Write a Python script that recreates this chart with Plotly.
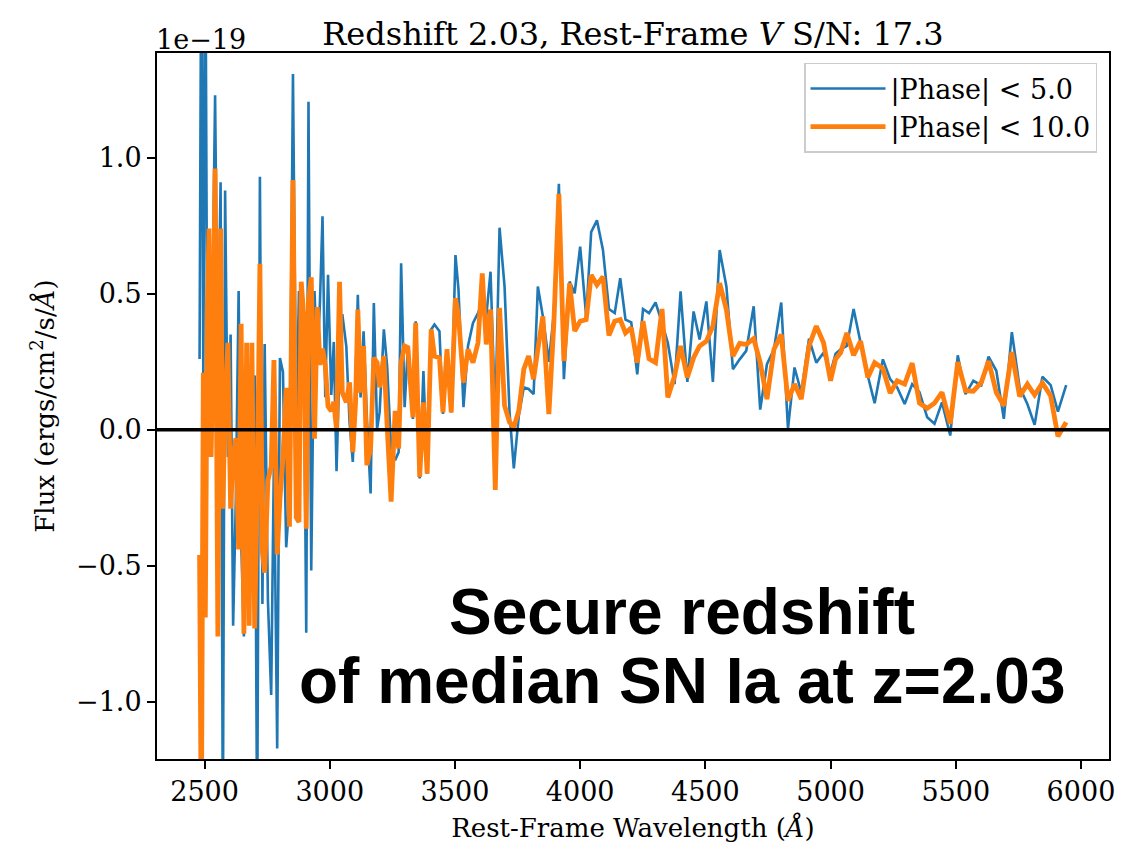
import plotly.graph_objects as go

# Rest-frame wavelength grid (Angstrom)
wavelength = [
    2480, 2487, 2495, 2503, 2511, 2518, 2526, 2534, 2542, 2553,
    2564, 2573, 2582, 2593, 2604, 2614, 2625, 2636, 2646, 2657,
    2668, 2678, 2689, 2700, 2710, 2721, 2731, 2740, 2753, 2766,
    2777, 2790, 2801, 2813, 2826, 2839, 2853, 2866, 2877, 2886,
    2897, 2906, 2915, 2926, 2939, 2950, 2961, 2971, 2982, 2993,
    3006, 3016, 3027, 3039, 3050, 3066, 3079, 3092, 3103, 3112,
    3123, 3135, 3148, 3163, 3176, 3189, 3199, 3216, 3229, 3245,
    3261, 3275, 3285, 3299, 3312, 3332, 3343, 3359, 3374, 3389,
    3405, 3418, 3438, 3452, 3468, 3485, 3502, 3514, 3534, 3552,
    3572, 3592, 3609, 3625, 3642, 3661, 3678, 3698, 3718, 3735,
    3755, 3775, 3794, 3814, 3831, 3851, 3875, 3895, 3915, 3935,
    3958, 3978, 4000, 4024, 4044, 4067, 4091, 4115, 4138, 4160,
    4181, 4204, 4228, 4251, 4275, 4301, 4327, 4350, 4377, 4401,
    4428, 4453, 4477, 4504, 4530, 4557, 4584, 4610, 4637, 4663,
    4693, 4719, 4746, 4774, 4803, 4830, 4856, 4883, 4914, 4943,
    4972, 5000, 5020, 5040, 5065, 5092, 5120, 5149, 5176, 5209,
    5238, 5266, 5296, 5326, 5355, 5386, 5415, 5445, 5478, 5508,
    5539, 5570, 5602, 5631, 5662, 5692, 5724, 5755, 5786, 5815,
    5846, 5879, 5908, 5941,
]

# Flux in units of 1e-19 ergs/cm^2/s/A
flux_phase5 = [
    0.26, 1.90, 0.20, 1.90, 0.15, 0.55, 0.07, 0.60, 1.23, 0.20,
    0.91, -1.50, 0.88, -0.10, 0.35, -0.72, -0.25, 0.51, -0.40, -0.76,
    0.25, -0.35, -0.10, 0.20, -1.50, 0.93, -0.64, 0.315, -0.627, -0.975,
    -0.10, -1.171, 0.264, 0.213, -0.432, -0.254, 1.308, -0.016, 0.510, 0.239,
    0.256, -0.746, 1.206, -0.517, 0.510, 0.239, 0.476, 0.785, 0.120, 0.570,
    0.128, 0.323, -0.152, 0.239, 0.425, 0.308, 0.028, -0.118, 0.174, 0.496,
    0.119, 0.362, 0.050, -0.234, 0.466, 0.004, 0.064, 0.369, 0.235, -0.069,
    -0.112, -0.082, 0.612, 0.083, 0.308, 0.040, 0.399, -0.179, 0.216, -0.161,
    0.369, 0.387, 0.362, 0.058, 0.296, 0.064, 0.642, 0.515, 0.083, 0.308,
    0.393, 0.429, 0.466, 0.417, 0.581, 0.040, 0.743, 0.527, 0.064, -0.142,
    0.052, 0.156, 0.150, 0.131, 0.527, 0.417, 0.250, 0.430, 0.904, 0.186,
    0.545, 0.502, 0.673, 0.417, 0.727, 0.770, 0.661, 0.444, 0.429, 0.557,
    0.405, 0.395, 0.204, 0.444, 0.429, 0.468, 0.393, 0.320, 0.168, 0.509,
    0.176, 0.435, 0.332, 0.472, 0.176, 0.661, 0.527, 0.223, 0.259, 0.290,
    0.454, 0.074, 0.241, 0.296, 0.468, 0.004, 0.229, 0.137, 0.335, 0.247,
    0.283, 0.211, 0.280, 0.296, 0.308, 0.444, 0.320, 0.198, 0.098, 0.259,
    0.186, 0.156, 0.095, 0.168, 0.138, 0.046, 0.022, 0.101, -0.021, 0.274,
    0.131, 0.180, 0.164, 0.269, 0.217, 0.040, 0.359, 0.156, 0.095, 0.018,
    0.195, 0.164, 0.067, 0.164,
]

flux_phase10 = [
    -0.46, -1.50, 0.21, -0.69, 0.45, 0.74, -0.10, 0.30, 0.96, -0.76,
    0.74, -0.29, 0.10, 0.32, -0.29, -0.10, -0.03, -0.44, 0.39, -0.75,
    0.32, -0.72, 0.32, -0.73, -0.26, 0.61, -0.45, -0.525, -0.186, -0.135,
    0.256, -0.458, -0.254, -0.101, 0.154, -0.356, 0.918, -0.322, -0.339, 0.544,
    0.408, -0.364, 0.476, 0.561, -0.033, 0.451, 0.239, 0.298, 0.239, 0.086,
    0.069, 0.103, 0.001, 0.544, 0.137, 0.101, 0.174, -0.082, 0.101, 0.442,
    0.137, 0.308, -0.130, -0.069, 0.265, 0.247, 0.156, 0.271, 0.016, -0.264,
    0.070, -0.069, 0.247, 0.308, 0.302, 0.046, 0.393, -0.173, 0.101, -0.161,
    0.369, 0.271, 0.265, 0.064, 0.296, 0.064, 0.484, 0.417, 0.174, 0.296,
    0.247, 0.320, 0.575, 0.314, 0.442, -0.221, 0.448, 0.089, 0.028, 0.010,
    0.070, 0.223, 0.271, 0.186, 0.296, 0.417, 0.058, 0.393, 0.867, 0.253,
    0.539, 0.363, 0.399, 0.405, 0.569, 0.533, 0.563, 0.347, 0.399, 0.405,
    0.356, 0.375, 0.247, 0.399, 0.261, 0.247, 0.444, 0.119, 0.198, 0.308,
    0.192, 0.265, 0.308, 0.326, 0.381, 0.539, 0.442, 0.271, 0.318, 0.314,
    0.335, 0.247, 0.113, 0.296, 0.350, 0.107, 0.168, 0.113, 0.308, 0.381,
    0.320, 0.180, 0.260, 0.283, 0.356, 0.274, 0.326, 0.192, 0.247, 0.225,
    0.135, 0.180, 0.168, 0.245, 0.098, 0.079, 0.098, 0.138, 0.022, 0.249,
    0.144, 0.142, 0.174, 0.253, 0.137, 0.089, 0.286, 0.123, 0.168, 0.128,
    0.172, 0.125, -0.024, 0.028,
]

series_names = ["|Phase| < 5.0", "|Phase| < 10.0"]
title_text = "Redshift 2.03, Rest-Frame <i>V</i> S/N: 17.3"
annotation_lines = ["Secure redshift", "of median SN Ia at z=2.03"]

SERIF = "DejaVu Serif"
BLUE = "#1f77b4"
ORANGE = "#ff7f0e"

fig = go.Figure()
fig.add_trace(go.Scatter(x=wavelength, y=flux_phase5, mode="lines", name=series_names[0],
                         line=dict(color=BLUE, width=2.6)))
fig.add_trace(go.Scatter(x=wavelength, y=flux_phase10, mode="lines", name=series_names[1],
                         line=dict(color=ORANGE, width=4.8)))

# horizontal zero line
fig.add_shape(type="line", xref="paper", x0=0, x1=1, yref="y", y0=0, y1=0,
              line=dict(color="black", width=3.5), layer="above")

axis_common = dict(
    showline=True, linecolor="black", linewidth=2, mirror=True,
    ticks="outside", ticklen=8, tickwidth=2, tickcolor="black",
    showgrid=False, zeroline=False,
    tickfont=dict(family=SERIF, size=27, color="black"),
)

fig.update_xaxes(range=[2310, 6112], tick0=2500, dtick=500,
                 title=dict(text="Rest-Frame Wavelength (<i>Å</i>)",
                            font=dict(family=SERIF, size=26, color="black"), standoff=12),
                 **axis_common)
fig.update_yaxes(range=[-1.21, 1.385], tick0=0, dtick=0.5, tickformat=".1f",
                 title=dict(text="Flux (ergs/cm<sup>2</sup>/s/<i>Å</i>)",
                            font=dict(family=SERIF, size=26, color="black"), standoff=14),
                 **axis_common)

fig.add_annotation(text="1e−19", xref="paper", yref="paper", x=0, y=1.0,
                   xanchor="left", yanchor="bottom", showarrow=False,
                   font=dict(family=SERIF, size=27, color="black"), yshift=-4, xshift=-3)

fig.add_annotation(text=annotation_lines[0], xref="paper", yref="paper", x=0.5515, y=0.2085,
                   xanchor="center", yanchor="middle", showarrow=False,
                   font=dict(family="Liberation Sans", size=64, color="black", weight="bold"))
fig.add_annotation(text=annotation_lines[1], xref="paper", yref="paper", x=0.5515, y=0.110,
                   xanchor="center", yanchor="middle", showarrow=False,
                   font=dict(family="Liberation Sans", size=64, color="black", weight="bold"))

fig.update_layout(
    width=1135, height=850,
    margin=dict(l=157, r=26, t=53, b=87),
    paper_bgcolor="white", plot_bgcolor="white",
    title=dict(text=title_text, x=0.5, xref="paper", y=1, yref="paper",
               xanchor="center", yanchor="bottom", pad=dict(b=8),
               font=dict(family=SERIF, size=32, color="black")),
    legend=dict(x=0.9874, y=0.9859, xanchor="right", yanchor="top",
                bgcolor="rgba(255,255,255,0.8)", bordercolor="#cccccc", borderwidth=1.5,
                font=dict(family=SERIF, size=27, color="black"),
                itemwidth=75),
    showlegend=True,
)

fig.write_html("out.html")
